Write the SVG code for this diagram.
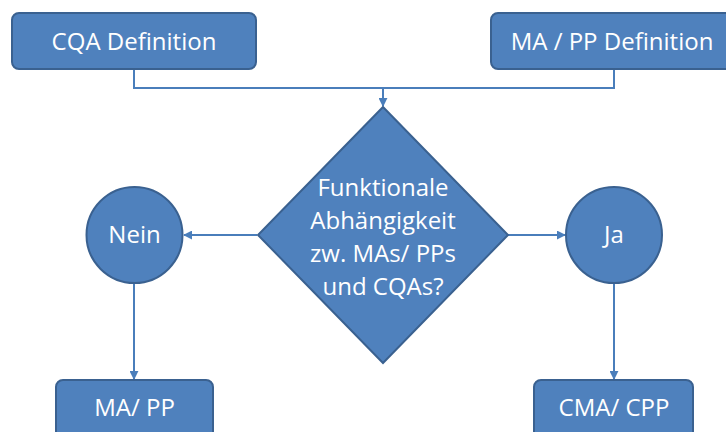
<svg xmlns="http://www.w3.org/2000/svg" width="726" height="432" viewBox="0 0 726 432">
  <style>
    .shape { fill: #4F81BD; stroke: #3A6190; stroke-width: 2; }
    .label { fill: #FFFFFF; font-family: "Open Sans", "Liberation Sans", sans-serif; font-size: 24px; text-anchor: middle; }
    .link { fill: none; stroke: #4A7EBB; stroke-width: 2; }
  </style>
  <defs>
    <marker id="arrow" viewBox="0 0 10 10" refX="9" refY="5" markerWidth="4.5" markerHeight="4.5" orient="auto" markerUnits="strokeWidth">
      <path d="M0,0 L10,5 L0,10 z" fill="#4A7EBB"/>
    </marker>
  </defs>

  <rect width="726" height="432" fill="#FFFFFF"/>

  <g id="connectors">
    <polyline class="link" points="134,69 134,88 614,88 614,69"/>
    <line class="link" x1="383" y1="88" x2="383" y2="106" marker-end="url(#arrow)"/>
    <line class="link" x1="257" y1="235" x2="184" y2="235" marker-end="url(#arrow)"/>
    <line class="link" x1="508" y1="235" x2="565" y2="235" marker-end="url(#arrow)"/>
    <line class="link" x1="134" y1="283" x2="134" y2="379" marker-end="url(#arrow)"/>
    <line class="link" x1="614" y1="283" x2="614" y2="379" marker-end="url(#arrow)"/>
  </g>

  <g id="cqa-definition">
    <rect class="shape" x="12" y="13" width="244" height="56" rx="7"/>
    <text class="label" x="134" y="50" font-size="25.5">CQA Definition</text>
  </g>

  <g id="ma-pp-definition">
    <rect class="shape" x="491" y="13" width="244" height="56" rx="7"/>
    <text class="label" x="612" y="50" font-size="25.5">MA / PP Definition</text>
  </g>

  <g id="decision">
    <polygon class="shape" points="383,107 508,235 383,363 258,235"/>
    <text class="label" x="383" y="196">Funktionale</text>
    <text class="label" x="383" y="229">Abhängigkeit</text>
    <text class="label" x="383" y="262">zw. MAs/ PPs</text>
    <text class="label" x="383" y="295">und CQAs?</text>
  </g>

  <g id="nein">
    <circle class="shape" cx="134.5" cy="235" r="48"/>
    <text class="label" x="134.5" y="243">Nein</text>
  </g>

  <g id="ja">
    <circle class="shape" cx="614" cy="235" r="48"/>
    <text class="label" x="614" y="243">Ja</text>
  </g>

  <g id="ma-pp">
    <rect class="shape" x="56" y="380" width="157" height="60" rx="7"/>
    <text class="label" x="134.5" y="416">MA/ PP</text>
  </g>

  <g id="cma-cpp">
    <rect class="shape" x="534" y="380" width="159" height="60" rx="7"/>
    <text class="label" x="614" y="416">CMA/ CPP</text>
  </g>
</svg>
